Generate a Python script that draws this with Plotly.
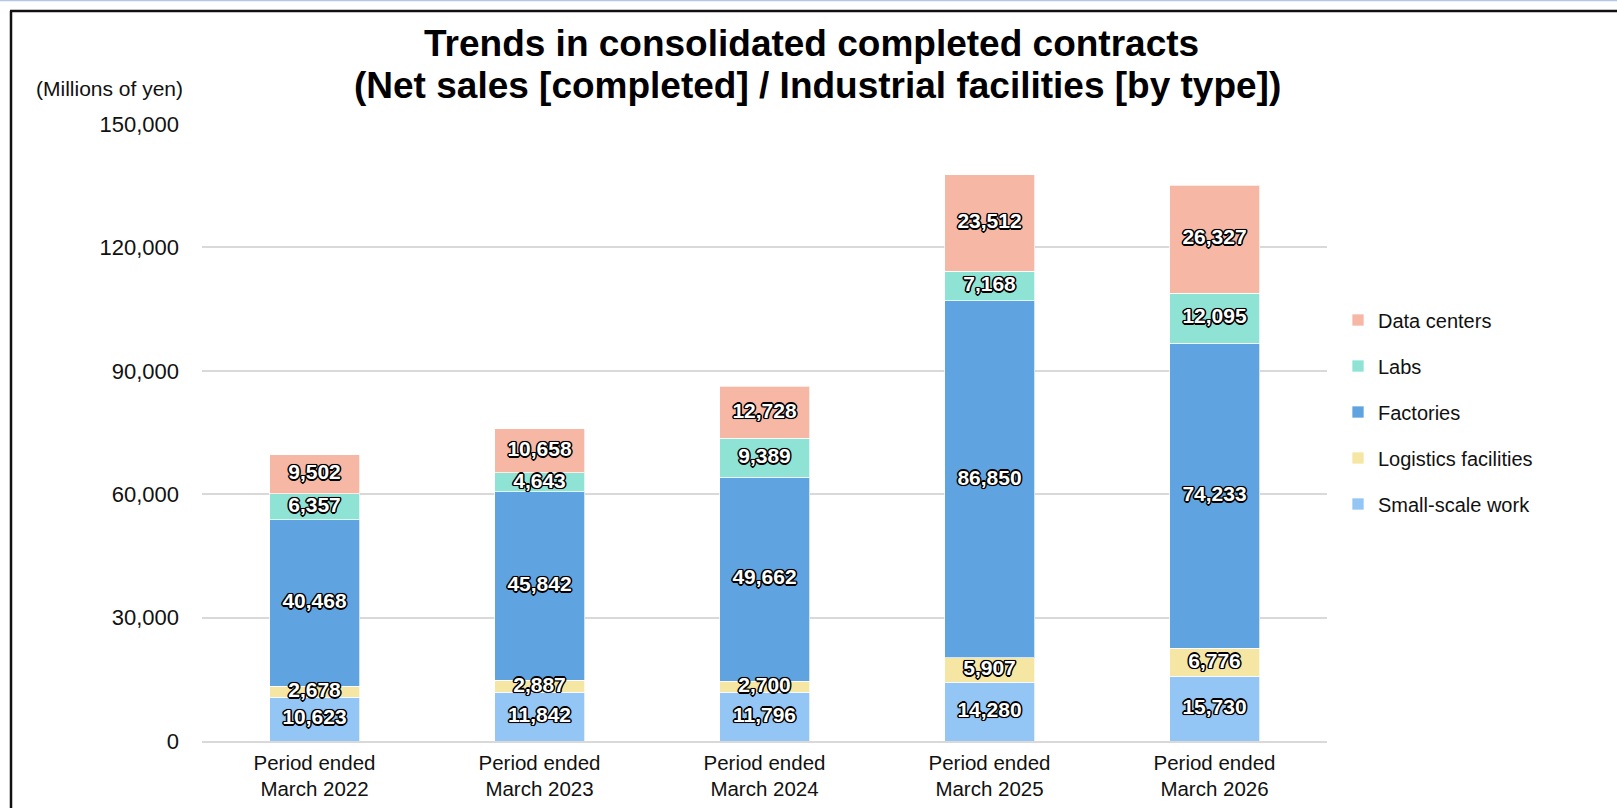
import plotly.graph_objects as go

categories = ["Period ended<br>March 2022", "Period ended<br>March 2023", "Period ended<br>March 2024",
              "Period ended<br>March 2025", "Period ended<br>March 2026"]
small_scale = [10623, 11842, 11796, 14280, 15730]
logistics = [2678, 2887, 2700, 5907, 6776]
factories = [40468, 45842, 49662, 86850, 74233]
labs = [6357, 4643, 9389, 7168, 12095]
data_centers = [9502, 10658, 12728, 23512, 26327]
y_ticks = [0, 30000, 60000, 90000, 120000, 150000]

series = [
    ("Small-scale work", small_scale, "#93C5F5"),
    ("Logistics facilities", logistics, "#F6E6A3"),
    ("Factories", factories, "#5FA4E0"),
    ("Labs", labs, "#8FE3D4"),
    ("Data centers", data_centers, "#F7B7A5"),
]

FONT = "Liberation Sans, Arial, sans-serif"
SHADOW = ("1px 1px 0 #000, -1px -1px 0 #000, 1px -1px 0 #000, -1px 1px 0 #000, "
          "0 1.5px 0 #000, 0 -1.5px 0 #000, 1.5px 0 0 #000, -1.5px 0 0 #000, 0 0 2px #000")

fig = go.Figure()
n = len(series)
for i, (name, vals, col) in enumerate(series):
    fig.add_trace(go.Bar(
        name=name, x=categories, y=vals, legendgroup=name, legendrank=(n - i) * 100,
        marker=dict(color=col, line=dict(color="rgba(255,255,255,0.7)", width=1)),
        hoverinfo="x+y+name",
    ))

# data labels drawn on top of all bars (so thin segments' labels are not covered)
base = [0] * len(categories)
for name, vals, col in series:
    mids = [b + v / 2 for b, v in zip(base, vals)]
    fig.add_trace(go.Scatter(
        x=categories, y=mids, mode="text", text=[f"{v:,}" for v in vals],
        textposition="middle center", showlegend=False, hoverinfo="skip", cliponaxis=False,
        textfont=dict(family=FONT, size=21, color="white", weight="bold", shadow=SHADOW),
    ))
    base = [b + v for b, v in zip(base, vals)]

W, H = 1617, 808
L, R, T, B = 202, 1327, 124, 741


def px(x):
    return (x - L) / (R - L)


def py(y):
    return (B - y) / (B - T)


annotations = [
    dict(text="<b>Trends in consolidated completed contracts</b>", x=px(811), y=py(43),
         xref="paper", yref="paper", xanchor="center", yanchor="middle", showarrow=False,
         font=dict(family=FONT, size=37, color="#000")),
    dict(text="<b>(Net sales [completed] / Industrial facilities [by type])</b>", x=px(817), y=py(86),
         xref="paper", yref="paper", xanchor="center", yanchor="middle", showarrow=False,
         font=dict(family=FONT, size=37, color="#000")),
    dict(text="(Millions of yen)", x=px(109), y=py(88),
         xref="paper", yref="paper", xanchor="center", yanchor="middle", showarrow=False,
         font=dict(family=FONT, size=21, color="#111")),
]

shapes = [
    dict(type="line", xref="paper", yref="paper", x0=px(11), x1=px(11), y0=py(11), y1=py(830),
         line=dict(color="#111", width=2.5)),
    dict(type="line", xref="paper", yref="paper", x0=px(10), x1=px(1640), y0=py(11), y1=py(11),
         line=dict(color="#111", width=2.5)),
    dict(type="line", xref="paper", yref="paper", x0=px(-5), x1=px(1640), y0=py(0.6), y1=py(0.6),
         line=dict(color="#B4C7E7", width=1.5)),
]

fig.update_layout(
    width=W, height=H,
    margin=dict(l=L, r=W - R, t=T, b=H - B, pad=0),
    barmode="stack", bargap=0.6,
    paper_bgcolor="white", plot_bgcolor="white",
    font=dict(family=FONT, color="#111"),
    showlegend=True,
    legend=dict(
        traceorder="grouped", tracegroupgap=17,
        x=px(1338), xanchor="left", y=py(300.5), yanchor="top",
        font=dict(family=FONT, size=20, color="#111"),
        bgcolor="rgba(0,0,0,0)", borderwidth=0,
    ),
    annotations=annotations,
    shapes=shapes,
    xaxis=dict(
        showgrid=False, showline=True, linecolor="#D9D9D9", linewidth=2,
        tickfont=dict(family=FONT, size=20.5, color="#111"), ticks="",
        ticklabelstandoff=2, automargin=False,
    ),
    yaxis=dict(
        range=[0, 150000], tickvals=y_ticks, tickformat=",",
        showgrid=True, gridcolor="#D9D9D9", gridwidth=2,
        showline=False, zeroline=False, ticks="",
        tickfont=dict(family=FONT, size=22, color="#111"),
        ticklabelstandoff=22, automargin=False,
    ),
)

fig.write_html("out.html", config={"displayModeBar": False},
               post_script="document.body.style.margin='0';")
